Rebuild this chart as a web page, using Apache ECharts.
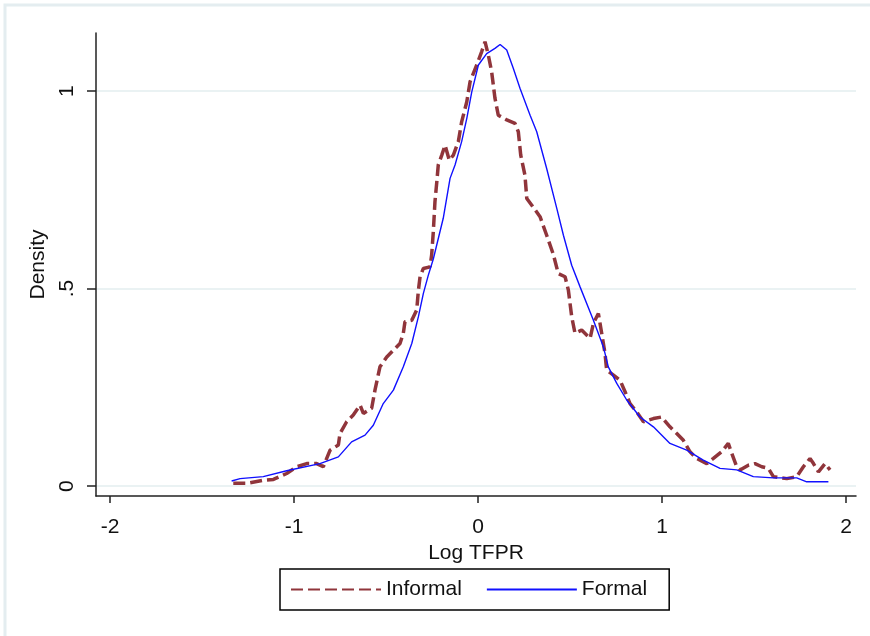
<!DOCTYPE html>
<html>
<head>
<meta charset="utf-8">
<title>Log TFPR density</title>
<script src="https://cdn.jsdelivr.net/npm/echarts@6/dist/echarts.min.js"></script>
<style>
  html, body { margin: 0; padding: 0; background: #fff; }
  #main { width: 870px; height: 636px; }
</style>
</head>
<body>
<div id="main"></div>
<script>
// 数据区域
var informalX = [-1.33, -1.257, -1.167, -1.112, -1.04, -0.985, -0.931, -0.877, -0.841, -0.804,
  -0.759, -0.75, -0.714, -0.678, -0.641, -0.623, -0.578, -0.56, -0.533, -0.496,
  -0.46, -0.424, -0.406, -0.397, -0.36, -0.333, -0.324, -0.315, -0.297, -0.261,
  -0.252, -0.243, -0.234, -0.224, -0.216, -0.197, -0.179, -0.156, -0.134, -0.107,
  -0.089, -0.061, -0.043, -0.007, 0.02, 0.038, 0.056, 0.074, 0.092, 0.11,
  0.156, 0.201, 0.219, 0.232, 0.255, 0.265, 0.292, 0.337, 0.373, 0.409,
  0.436, 0.473, 0.491, 0.509, 0.527, 0.563, 0.609, 0.627, 0.654, 0.672,
  0.69, 0.699, 0.736, 0.772, 0.799, 0.826, 0.862, 0.899, 0.953, 0.998,
  1.043, 1.08, 1.116, 1.152, 1.188, 1.243, 1.279, 1.324, 1.36, 1.379,
  1.406, 1.424, 1.469, 1.505, 1.542, 1.578, 1.605, 1.678, 1.732, 1.768,
  1.804, 1.823, 1.85, 1.886, 1.913];
var informalY = [0.007, 0.007, 0.015, 0.017, 0.032, 0.049, 0.057, 0.057, 0.049, 0.091,
  0.104, 0.133, 0.163, 0.18, 0.205, 0.184, 0.197, 0.243, 0.302, 0.327,
  0.344, 0.361, 0.387, 0.416, 0.42, 0.446, 0.496, 0.53, 0.551, 0.555,
  0.585, 0.644, 0.72, 0.77, 0.813, 0.838, 0.863, 0.825, 0.838, 0.872,
  0.922, 0.973, 1.024, 1.066, 1.10, 1.125, 1.091, 1.049, 0.982, 0.939,
  0.927, 0.918, 0.897, 0.838, 0.787, 0.728, 0.711, 0.682, 0.635, 0.587,
  0.538, 0.53, 0.496, 0.429, 0.387, 0.395, 0.374, 0.412, 0.437, 0.387,
  0.336, 0.294, 0.281, 0.268, 0.239, 0.209, 0.188, 0.163, 0.171, 0.175,
  0.15, 0.133, 0.116, 0.087, 0.07, 0.057, 0.07, 0.087, 0.108, 0.083,
  0.049, 0.041, 0.053, 0.057, 0.049, 0.045, 0.024, 0.019, 0.024, 0.049,
  0.07, 0.057, 0.036, 0.057, 0.041];

var formalX = [-1.339, -1.293, -1.167, -1.04, -0.859, -0.759, -0.687, -0.614, -0.569, -0.515,
  -0.46, -0.406, -0.36, -0.324, -0.297, -0.27, -0.243, -0.189, -0.152, -0.125,
  -0.089, -0.061, -0.034, 0.002, 0.047, 0.092, 0.12, 0.156, 0.192, 0.228,
  0.283, 0.319, 0.373, 0.428, 0.464, 0.509, 0.554, 0.627, 0.681, 0.708,
  0.754, 0.808, 0.88, 0.953, 1.043, 1.134, 1.224, 1.315, 1.406, 1.496,
  1.605, 1.732, 1.786, 1.904];
var formalY = [0.013, 0.019, 0.024, 0.039, 0.057, 0.074, 0.112, 0.129, 0.154, 0.209,
  0.243, 0.302, 0.361, 0.429, 0.488, 0.534, 0.575, 0.678, 0.779, 0.813,
  0.872, 0.931, 0.998, 1.066, 1.095, 1.108, 1.118, 1.104, 1.057, 1.007,
  0.939, 0.897, 0.804, 0.703, 0.635, 0.559, 0.505, 0.42, 0.353, 0.302,
  0.26, 0.218, 0.175, 0.15, 0.108, 0.091, 0.066, 0.045, 0.041, 0.024,
  0.021, 0.021, 0.011, 0.011];

var xTicks = [-2, -1, 0, 1, 2];
var yTicks = [0, 0.5, 1];

function pairs(xs, ys) {
    var out = [];
    for (var i = 0; i < xs.length; i++) {
        out.push([xs[i], ys[i]]);
    }
    return out;
}

var FONT = 'Liberation Sans, Arial, sans-serif';

var myChart = echarts.init(document.getElementById('main'));
myChart.setOption({
    animation: false,
    backgroundColor: '#fff',
    textStyle: { fontFamily: FONT },
    graphic: [{
        type: 'rect',
        shape: { x: 5, y: 5, width: 900, height: 700 },
        style: { fill: 'none', stroke: '#e4edf0', lineWidth: 3 },
        silent: true
    }],
    grid: { left: 96, right: 14, top: 33, bottom: 140 },
    legend: {
        data: ['Informal', 'Formal'],
        left: 280,
        top: 569,
        orient: 'horizontal',
        borderColor: '#000',
        borderWidth: 1.5,
        padding: [10, 22, 10, 10],
        itemWidth: 90,
        itemHeight: 14,
        itemGap: 24,
        itemStyle: { opacity: 0 },
        textStyle: { fontSize: 21, color: '#111', fontFamily: FONT }
    },
    xAxis: {
        type: 'value',
        min: -2.076,
        max: 2.054,
        name: 'Log TFPR',
        nameLocation: 'middle',
        nameGap: 40,
        nameTextStyle: { fontSize: 21, color: '#111', fontFamily: FONT },
        axisLine: { onZero: false, lineStyle: { color: '#222', width: 1.5 } },
        axisTick: { customValues: xTicks, length: 7, lineStyle: { color: '#222', width: 1.5 } },
        axisLabel: { customValues: xTicks, fontSize: 21, color: '#111', margin: 21, fontFamily: FONT },
        splitLine: { show: false }
    },
    yAxis: {
        type: 'value',
        min: -0.025,
        max: 1.147,
        name: 'Density',
        nameLocation: 'middle',
        nameGap: 32,
        nameTextStyle: { fontSize: 21, color: '#111', fontFamily: FONT },
        axisLine: { show: true, onZero: false, lineStyle: { color: '#222', width: 1.5 } },
        axisTick: { show: true, customValues: yTicks, length: 9, lineStyle: { color: '#222', width: 1.5 } },
        axisLabel: {
            customValues: yTicks,
            rotate: 90,
            fontSize: 21,
            color: '#111',
            margin: 18,
            fontFamily: FONT,
            formatter: function (v) { return v === 0.5 ? '.5' : String(v); }
        },
        splitLine: { show: true, lineStyle: { color: '#eaf2f3', width: 2 } }
    },
    series: [
        {
            name: 'Informal',
            type: 'line',
            symbol: 'none',
            showSymbol: false,
            data: pairs(informalX, informalY),
            itemStyle: { color: '#90353b' },
            lineStyle: { color: '#90353b', width: 3.5, type: [12, 5] },
            z: 3
        },
        {
            name: 'Formal',
            type: 'line',
            symbol: 'none',
            showSymbol: false,
            data: pairs(formalX, formalY),
            itemStyle: { color: '#1010ff' },
            lineStyle: { color: '#1010ff', width: 1.4 },
            z: 4
        }
    ]
});
</script>
</body>
</html>
